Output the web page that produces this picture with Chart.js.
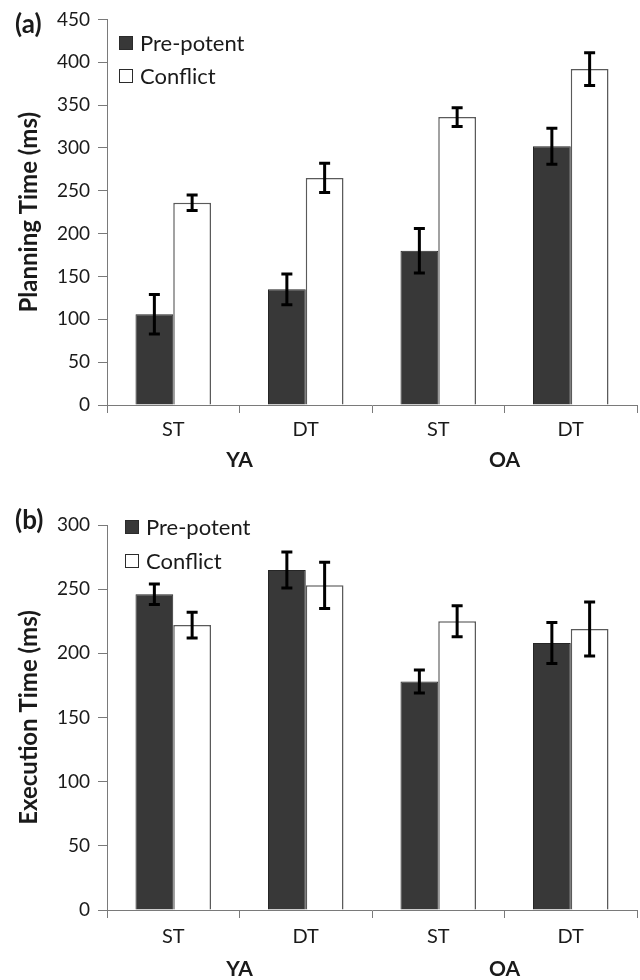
<!DOCTYPE html>
<html><head><meta charset="utf-8">
<script src="https://cdn.jsdelivr.net/npm/chart.js@4.4.1/dist/chart.umd.min.js"></script>
<style>
html,body{margin:0;padding:0;background:#fff;}
body{width:640px;height:980px;position:relative;overflow:hidden;font-family:Lato, sans-serif;color:#1a1a1a;}
canvas{position:absolute;left:0;}
.tag{position:absolute;font-weight:bold;font-size:26px;line-height:1;}
.legend{position:absolute;font-size:22px;line-height:1;}
.legend .it{display:flex;align-items:center;height:20px;position:absolute;left:0;white-space:nowrap;}
.sw{width:14px;height:14px;border:1px solid #2b2b2b;box-sizing:border-box;margin-right:7px;}
</style>
</head><body>
<canvas id="c1" width="640" height="490" style="top:0"></canvas>
<canvas id="c2" width="640" height="490" style="top:490px"></canvas>
<div class="tag" style="left:15px;top:10px">(a)</div>
<div class="tag" style="left:15px;top:506px">(b)</div>
<div class="legend" id="lg1" style="left:119px;top:33px"></div>
<div class="legend" id="lg2" style="left:125px;top:517px"></div>
<script>
// ---- data ----
const categories = ['ST', 'DT', 'ST', 'DT'];
const groups = ['YA', 'OA'];
const seriesNames = ['Pre-potent', 'Conflict'];

const planPre    = [106, 135, 180, 302];
const planPreErr = [23, 18, 26, 21];
const planCon    = [236, 265, 336, 392];
const planConErr = [9, 17, 11, 19];

const execPre    = [246, 265, 178, 208];
const execPreErr = [8, 14, 9, 16];
const execCon    = [222, 253, 225, 219];
const execConErr = [10, 18, 12, 21];

const planAxis = {max: 450, step: 50, title: 'Planning Time (ms)'};
const execAxis = {max: 300, step: 50, title: 'Execution Time (ms)'};

// ---- styling ----
const FONT = 'Lato';
const TXT = '#1a1a1a';
const AXIS = '#7a7a7a';
const preFill = '#383838', preBorder = '#262626';
const conFill = '#ffffff', conBorder = '#5a5a5a';

const errorBars = {
  id: 'errorBars',
  afterDatasetsDraw(chart) {
    const ctx = chart.ctx, y = chart.scales.y;
    chart.data.datasets.forEach((ds, i) => {
      const meta = chart.getDatasetMeta(i);
      meta.data.forEach((bar, j) => {
        const v = ds.data[j], e = ds.errors[j];
        const t = y.getPixelForValue(v + e), b = y.getPixelForValue(v - e);
        ctx.save();
        ctx.strokeStyle = '#000';
        ctx.lineWidth = 3;
        ctx.beginPath();
        ctx.moveTo(bar.x, t); ctx.lineTo(bar.x, b);
        ctx.moveTo(bar.x - 5.5, t); ctx.lineTo(bar.x + 5.5, t);
        ctx.moveTo(bar.x - 5.5, b); ctx.lineTo(bar.x + 5.5, b);
        ctx.stroke();
        ctx.restore();
      });
    });
  }
};

function makeChart(id, pre, preErr, con, conErr, ax, lay) {
  return new Chart(document.getElementById(id), {
    type: 'bar',
    data: {
      labels: categories,
      datasets: [
        {label: seriesNames[0], data: pre, errors: preErr, backgroundColor: preFill,
         borderColor: preBorder, borderWidth: 1, barPercentage: 1, categoryPercentage: 0.57},
        {label: seriesNames[1], data: con, errors: conErr, backgroundColor: conFill,
         borderColor: conBorder, borderWidth: 1.5, barPercentage: 1, categoryPercentage: 0.57}
      ]
    },
    options: {
      responsive: false,
      animation: false,
      devicePixelRatio: 1,
      layout: {padding: {top: lay.top, right: 3, left: 0, bottom: 0}},
      plugins: {legend: {display: false}, tooltip: {enabled: false}},
      scales: {
        y: {
          min: 0, max: ax.max,
          afterFit(s) { s.width = 107; },
          ticks: {stepSize: ax.step, font: {family: FONT, size: 19}, color: TXT, padding: 8},
          grid: {drawOnChartArea: false, tickLength: 9, color: AXIS},
          border: {color: AXIS, width: 1},
          title: {display: true, text: ax.title, font: {family: FONT, size: 24, weight: 'bold'},
                  color: TXT, padding: {top: 15, bottom: 0}}
        },
        x: {
          weight: 0,
          afterFit(s) { s.height = lay.xh; },
          ticks: {font: {family: FONT, size: 20}, color: TXT, padding: lay.xp},
          grid: {offset: true, drawOnChartArea: false, tickLength: 8, color: AXIS},
          border: {color: AXIS, width: 1}
        },
        x2: {
          type: 'category', labels: groups, position: 'bottom', offset: true, weight: 1,
          afterFit(s) { s.height = lay.x2h; },
          ticks: {font: {family: FONT, size: 21, weight: 'bold'}, color: TXT, padding: lay.x2p},
          grid: {display: false, drawTicks: false},
          border: {display: false}
        }
      }
    },
    plugins: [errorBars]
  });
}

function makeLegend(elId, chart, gap) {
  const el = document.getElementById(elId);
  chart.data.datasets.forEach((ds, i) => {
    const it = document.createElement('div');
    it.className = 'it';
    it.style.top = (i * gap) + 'px';
    const sw = document.createElement('span');
    sw.className = 'sw';
    sw.style.background = ds.backgroundColor;
    const tx = document.createElement('span');
    tx.textContent = ds.label;
    it.appendChild(sw); it.appendChild(tx);
    el.appendChild(it);
  });
}

const ch1 = makeChart('c1', planPre, planPreErr, planCon, planConErr, planAxis,
  {top: 18, xh: 40, x2h: 45, xp: 5, x2p: 3});
const ch2 = makeChart('c2', execPre, execPreErr, execCon, execConErr, execAxis,
  {top: 35, xh: 37, x2h: 33, xp: 7, x2p: 10});
makeLegend('lg1', ch1, 33);
makeLegend('lg2', ch2, 34);
</script>
</body></html>
